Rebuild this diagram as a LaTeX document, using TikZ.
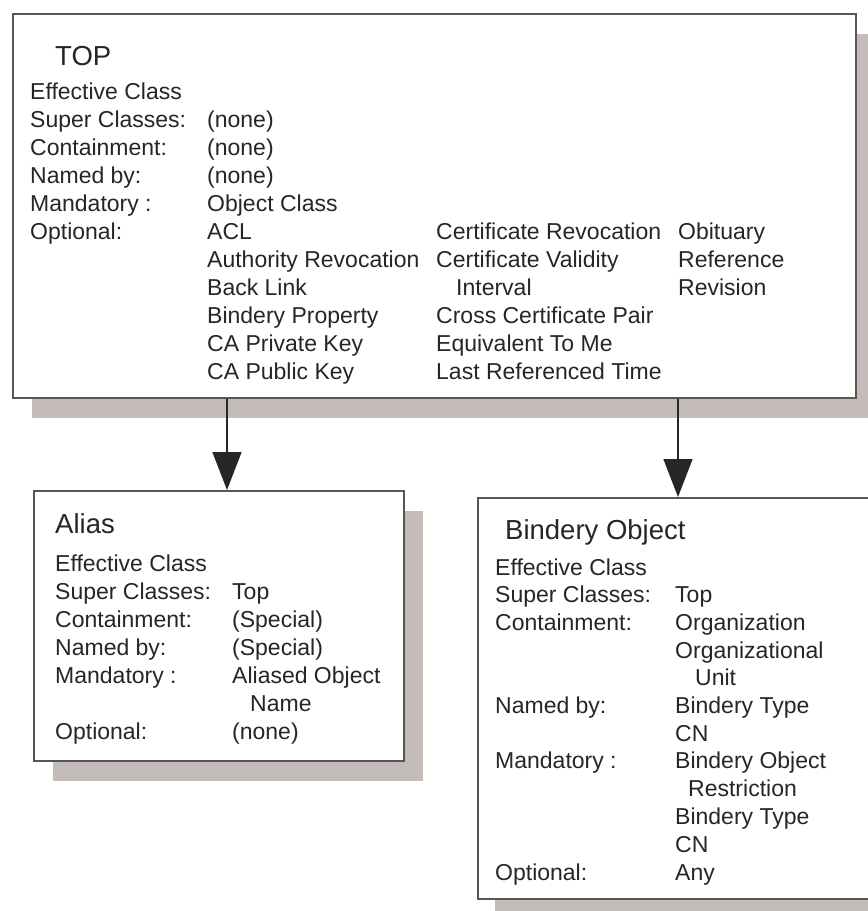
\documentclass[tikz,border=0pt]{standalone}
\usepackage{fontspec}
\setmainfont{Liberation Sans}
\usetikzlibrary{arrows.meta}
\definecolor{shadowgray}{HTML}{C4BCB9}
\definecolor{framegray}{HTML}{5A5555}
\definecolor{inkgray}{HTML}{262626}

\begin{document}
\begin{tikzpicture}[x=1pt,y=-1pt,
  classbox/.style={draw=framegray, line width=2pt, fill=white, inner sep=0pt, anchor=north west},
  boxshadow/.style={fill=shadowgray, draw=none, inner sep=0pt, anchor=north west},
  txt/.style={anchor=base west, inner sep=0pt, text=inkgray, font=\fontsize{23}{28}\selectfont},
  ttl/.style={anchor=base west, inner sep=0pt, text=inkgray, font=\fontsize{27.5}{32}\selectfont},
  link/.style={draw=inkgray, line width=1.5pt, -{Triangle[length=38pt,width=29pt]}}]

\useasboundingbox (0,0) rectangle (868,911);
\clip (0,0) rectangle (868,911);

% ---------- class boxes with their shadows ----------
\node[boxshadow, minimum width=843pt, minimum height=384pt] (topshadow) at (32,34) {};
\node[classbox, minimum width=843pt, minimum height=384pt] (top) at (12,13) {};

\node[boxshadow, minimum width=370pt, minimum height=270pt] (aliasshadow) at (53,511) {};
\node[classbox, minimum width=370pt, minimum height=270pt] (alias) at (33,490) {};

\node[boxshadow, minimum width=420pt, minimum height=401pt] (binshadow) at (495,515) {};
\node[classbox, minimum width=420pt, minimum height=401pt] (bindery) at (477,497) {};

% ---------- inheritance arrows ----------
\coordinate (leftx) at (227,0);
\coordinate (rightx) at (678,0);
\draw[link] (top.south -| leftx) -- (alias.north -| leftx);
\draw[link] (top.south -| rightx) -- (bindery.north -| rightx);

% ---------- TOP ----------
\node[ttl] (topT) at (55,65) {TOP};
\node[txt] (topL1) at (30,99)  {Effective Class};
\node[txt] (topL2) at (30,127) {Super Classes:};
\node[txt] (topL3) at (30,155) {Containment:};
\node[txt] (topL4) at (30,183) {Named by:};
\node[txt] (topL5) at (30,211) {Mandatory :};
\node[txt] (topL6) at (30,239) {Optional:};

\node[txt] (topV2) at (207,127) {(none)};
\node[txt] (topV3) at (207,155) {(none)};
\node[txt] (topV4) at (207,183) {(none)};
\node[txt] (topV5) at (207,211) {Object Class};
\node[txt] (topA1) at (207,239) {ACL};
\node[txt] (topA2) at (207,267) {Authority Revocation};
\node[txt] (topA3) at (207,295) {Back Link};
\node[txt] (topA4) at (207,323) {Bindery Property};
\node[txt] (topA5) at (207,351) {CA Private Key};
\node[txt] (topA6) at (207,379) {CA Public Key};

\node[txt] (topB1) at (436,239) {Certificate Revocation};
\node[txt] (topB2) at (436,267) {Certificate Validity};
\node[txt] (topB3) at (456,295) {Interval};
\node[txt] (topB4) at (436,323) {Cross Certificate Pair};
\node[txt] (topB5) at (436,351) {Equivalent To Me};
\node[txt] (topB6) at (436,379) {Last Referenced Time};

\node[txt] (topC1) at (678,239) {Obituary};
\node[txt] (topC2) at (678,267) {Reference};
\node[txt] (topC3) at (678,295) {Revision};

% ---------- Alias ----------
\node[ttl] (alT) at (55,533) {Alias};
\node[txt] (alL1) at (55,571) {Effective Class};
\node[txt] (alL2) at (55,599) {Super Classes:};
\node[txt] (alL3) at (55,627) {Containment:};
\node[txt] (alL4) at (55,655) {Named by:};
\node[txt] (alL5) at (55,683) {Mandatory :};
\node[txt] (alL6) at (55,739) {Optional:};

\node[txt] (alV2) at (232,599) {Top};
\node[txt] (alV3) at (232,627) {(Special)};
\node[txt] (alV4) at (232,655) {(Special)};
\node[txt] (alV5) at (232,683) {Aliased Object};
\node[txt] (alV5b) at (250,711) {Name};
\node[txt] (alV6) at (232,739) {(none)};

% ---------- Bindery Object ----------
\node[ttl] (biT) at (505,539) {Bindery Object};
\node[txt] (biL1) at (495,575)   {Effective Class};
\node[txt] (biL2) at (495,602.7) {Super Classes:};
\node[txt] (biL3) at (495,630.4) {Containment:};
\node[txt] (biL4) at (495,713.5) {Named by:};
\node[txt] (biL5) at (495,768.9) {Mandatory :};
\node[txt] (biL6) at (495,880)   {Optional:};

\node[txt] (biV2)  at (675,602.7) {Top};
\node[txt] (biV3)  at (675,630.4) {Organization};
\node[txt] (biV3b) at (675,658.1) {Organizational};
\node[txt] (biV3c) at (695,685.8) {Unit};
\node[txt] (biV4)  at (675,713.5) {Bindery Type};
\node[txt] (biV4b) at (675,741.2) {CN};
\node[txt] (biV5)  at (675,768.9) {Bindery Object};
\node[txt] (biV5b) at (688,796.6) {Restriction};
\node[txt] (biV5c) at (675,824.3) {Bindery Type};
\node[txt] (biV5d) at (675,852)   {CN};
\node[txt] (biV6)  at (675,880)   {Any};
\end{tikzpicture}
\end{document}
